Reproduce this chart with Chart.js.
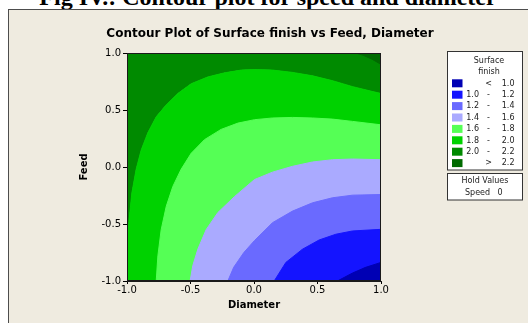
<!DOCTYPE html>
<html>
<head>
<meta charset="utf-8">
<script src="https://cdn.jsdelivr.net/npm/chart.js@4/dist/chart.umd.min.js"></script>
<style>
  html, body { margin: 0; padding: 0; width: 528px; height: 323px; overflow: hidden; background: #ffffff; }
  #caption {
    position: absolute; left: 4px; top: -15.5px; width: 528px; text-align: center;
    font: bold 24px "Liberation Serif", "Times New Roman", serif; line-height: 24px;
    color: #000; white-space: nowrap;
  }
  #panel {
    position: absolute; left: 8px; top: 9px; width: 540px; height: 330px;
    border: 1px solid #4d4d4d; background: #EFEBE0; box-sizing: border-box;
  }
  #chart { position: absolute; left: 0; top: 0; }
</style>
</head>
<body>
<div id="caption">Fig IV.: Contour plot for speed and diameter</div>
<div id="panel"></div>
<canvas id="chart" width="528" height="323"></canvas>
<script>
// Surface finish response over Diameter (x) and Feed (y), Speed held at 0.
// Each contour is a level line listed from its lower/left end to the right edge: [Diameter, Feed].
const levels = [1.0, 1.2, 1.4, 1.6, 1.8, 2.0, 2.2];

const contour10 = [[0.657, -1.0], [0.776, -0.93], [0.88, -0.88], [1.0, -0.837]];
const contour12 = [[0.159, -1.0], [0.251, -0.837], [0.382, -0.721], [0.513, -0.64], [0.644, -0.59], [0.776, -0.561], [1.0, -0.547]];
const contour14 = [[-0.206, -1.0], [-0.16, -0.88], [-0.08, -0.75], [0.004, -0.645], [0.146, -0.488], [0.303, -0.387], [0.461, -0.314], [0.618, -0.27], [0.776, -0.247], [1.0, -0.241]];
const contour16 = [[-0.503, -1.0], [-0.482, -0.865], [-0.442, -0.72], [-0.377, -0.55], [-0.285, -0.40], [-0.154, -0.26], [0.004, -0.11], [0.146, -0.045], [0.303, 0.006], [0.461, 0.044], [0.618, 0.064], [0.776, 0.07], [1.0, 0.064]];
const contour18 = [[-0.77, -1.0], [-0.757, -0.78], [-0.731, -0.55], [-0.691, -0.345], [-0.639, -0.17], [-0.574, -0.02], [-0.495, 0.12], [-0.39, 0.24], [-0.259, 0.33], [-0.127, 0.385], [0.004, 0.415], [0.146, 0.43], [0.303, 0.435], [0.461, 0.43], [0.618, 0.42], [0.776, 0.40], [1.0, 0.37]];
const contour20 = [[-1.0, -0.66], [-0.98, -0.43], [-0.962, -0.23], [-0.928, -0.02], [-0.888, 0.15], [-0.836, 0.30], [-0.77, 0.44], [-0.691, 0.545], [-0.6, 0.645], [-0.495, 0.73], [-0.364, 0.79], [-0.232, 0.826], [-0.101, 0.85], [0.004, 0.855], [0.146, 0.85], [0.303, 0.83], [0.461, 0.80], [0.618, 0.757], [0.776, 0.705], [0.933, 0.662], [1.0, 0.645]];
const contour22 = [[0.80, 1.0], [0.86, 0.98], [0.93, 0.945], [1.0, 0.90]];

const diameterTicks = ['-1.0', '-0.5', '0.0', '0.5', '1.0'];
const feedTicks = ['-1.0', '-0.5', '0.0', '0.5', '1.0'];
const chartTitle = 'Contour Plot of Surface finish vs Feed, Diameter';
const xTitle = 'Diameter';
const yTitle = 'Feed';
const legendTitle = ['Surface', 'finish'];
const holdTitle = 'Hold Values';
const holdFactor = 'Speed';
const holdValue = 0;

// Band colours, lowest band (< 1.0) first.
const bandColors = ['#0000B4', '#1414FF', '#6A6AFF', '#AAAAFF', '#55FF55', '#00D200', '#008A00', '#006A00'];

function bandParts(b) {
  if (b === 0) return ['', '<', levels[0].toFixed(1)];
  if (b === levels.length) return ['', '>', levels[levels.length - 1].toFixed(1)];
  return [levels[b - 1].toFixed(1), '-', levels[b].toFixed(1)];
}

// Layers painted bottom to top; each fills the side of its contour that lies in the band.
const layers = [
  { line: contour20, fill: 'end', band: 6 },
  { line: contour22, fill: 'end', band: 7 },
  { line: contour20, fill: 'start', band: 5 },
  { line: contour18, fill: 'start', band: 4 },
  { line: contour16, fill: 'start', band: 3 },
  { line: contour14, fill: 'start', band: 2 },
  { line: contour12, fill: 'start', band: 1 },
  { line: contour10, fill: 'start', band: 0 }
];

const datasets = layers.map((l, i) => ({
  label: bandParts(l.band).join(' ').trim(),
  data: l.line.map(([x, y]) => ({ x, y })),
  fill: l.fill,
  backgroundColor: bandColors[l.band],
  borderColor: bandColors[l.band],
  borderWidth: 1,
  pointRadius: 0,
  pointHoverRadius: 0,
  tension: 0,
  order: layers.length - i
}));

const plotFrame = {
  id: 'plotFrame',
  afterDatasetsDraw(chart) {
    const { ctx, chartArea: a } = chart;
    ctx.save();
    ctx.strokeStyle = '#1a1a1a';
    ctx.lineWidth = 1;
    ctx.strokeRect(Math.round(a.left) + 0.5, Math.round(a.top) + 0.5,
      Math.round(a.right - a.left) - 1, Math.round(a.bottom - a.top) - 1);
    ctx.restore();
  }
};

const bandLegend = {
  id: 'bandLegend',
  afterDraw(chart) {
    const ctx = chart.ctx;
    ctx.save();
    // legend box
    ctx.fillStyle = '#ffffff';
    ctx.fillRect(447.5, 51.5, 75, 118.5);
    ctx.strokeStyle = '#333333';
    ctx.lineWidth = 1;
    ctx.strokeRect(447.5, 51.5, 75, 118.5);
    ctx.fillStyle = '#222222';
    ctx.font = '8px "DejaVu Sans", sans-serif';
    ctx.textBaseline = 'middle';
    ctx.textAlign = 'center';
    ctx.fillText(legendTitle[0], 489, 60.5);
    ctx.fillText(legendTitle[1], 489, 72);
    for (let b = 0; b < bandColors.length; b++) {
      const y = 79.3 + b * 11.4;
      ctx.fillStyle = bandColors[b];
      ctx.fillRect(452, y, 10.5, 8);
      const [lo, sym, hi] = bandParts(b);
      ctx.fillStyle = '#222222';
      ctx.textAlign = 'right';
      if (lo) ctx.fillText(lo, 479, y + 4.3);
      ctx.fillText(hi, 514.5, y + 4.3);
      ctx.textAlign = 'center';
      ctx.fillText(sym, 488.5, y + 4.3);
    }
    // hold values box
    ctx.fillStyle = '#ffffff';
    ctx.fillRect(447.5, 173.5, 75, 26.5);
    ctx.strokeStyle = '#333333';
    ctx.strokeRect(447.5, 173.5, 75, 26.5);
    ctx.fillStyle = '#222222';
    ctx.textAlign = 'center';
    ctx.fillText(holdTitle, 485, 181);
    ctx.textAlign = 'left';
    ctx.fillText(holdFactor, 465, 193);
    ctx.fillText(String(holdValue), 497.5, 193);
    ctx.restore();
  }
};

const tickFont = { family: '"DejaVu Sans", sans-serif', size: 10 };
const boldFont = { family: '"DejaVu Sans", sans-serif', size: 10, weight: 'bold' };

new Chart(document.getElementById('chart'), {
  type: 'line',
  data: { datasets },
  plugins: [plotFrame, bandLegend],
  options: {
    responsive: false,
    animation: false,
    devicePixelRatio: 1,
    layout: { padding: { left: 12, right: 0, top: 0, bottom: 0 } },
    plugins: {
      legend: { display: false },
      tooltip: { enabled: false },
      title: {
        display: true,
        text: chartTitle,
        color: '#000',
        font: { family: '"DejaVu Sans", sans-serif', size: 12, weight: 'bold' },
        padding: { top: 26.3, bottom: 12.3 }
      },
      filler: { propagate: false }
    },
    scales: {
      x: {
        type: 'linear',
        min: -1, max: 1,
        ticks: {
          stepSize: 0.5, color: '#000', font: tickFont, padding: 0,
          maxRotation: 0, autoSkip: false,
          callback: (v, i) => diameterTicks[i]
        },
        grid: { display: true, drawOnChartArea: false, drawTicks: true, tickLength: 3, color: '#000' },
        border: { display: true, color: '#1a1a1a' },
        title: { display: true, text: xTitle, color: '#000', font: boldFont, padding: { top: 0, bottom: 11.5 } },
        afterFit(s) { s.height = 42; s.paddingLeft = 0; s.paddingRight = 0; }
      },
      y: {
        type: 'linear',
        min: -1, max: 1,
        ticks: {
          stepSize: 0.5, color: '#000', font: tickFont, padding: 2,
          autoSkip: false,
          callback: (v, i) => feedTicks[i]
        },
        grid: { display: true, drawOnChartArea: false, drawTicks: true, tickLength: 4, color: '#000' },
        border: { display: true, color: '#1a1a1a' },
        title: { display: true, text: yTitle, color: '#000', font: boldFont, padding: { top: 66, bottom: 0 } },
        afterFit(s) { s.width = 115; s.paddingTop = 0; s.paddingBottom = 0; }
      },
      // empty right-hand axis that reserves the legend column
      side: {
        type: 'linear',
        position: 'right',
        min: 0, max: 1,
        display: true,
        ticks: { display: false },
        grid: { display: false, drawTicks: false },
        border: { display: false },
        afterFit(s) { s.width = 147; s.paddingTop = 0; s.paddingBottom = 0; }
      }
    }
  }
});
</script>
</body>
</html>
